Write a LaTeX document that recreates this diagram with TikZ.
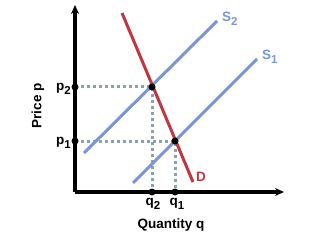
\documentclass[tikz,border=0pt]{standalone}
\usepackage{fontspec}
\setmainfont{Liberation Sans}
\usetikzlibrary{arrows.meta}
\newcommand{\lowsub}[1]{\raisebox{-0.6ex}{\fontsize{11.5}{12}\selectfont #1}}
\definecolor{supblue}{RGB}{122,150,212}
\definecolor{demred}{RGB}{190,55,65}
\definecolor{guide}{RGB}{135,162,172}
\begin{document}
\begin{tikzpicture}[x=1pt,y=-1pt,
  font=\fontsize{13.5}{15}\selectfont\bfseries,
  axis/.style={line width=3.2pt,-{Stealth[length=9pt,width=8pt]}},
  guideline/.style={guide,line width=3pt,dash pattern=on 3pt off 3pt},
  supline/.style={supblue,line width=3pt},
  demline/.style={demred,line width=3pt},
  dot/.style={circle,fill=black,inner sep=0pt,minimum size=7pt},
  lab/.style={inner sep=0pt}]
\useasboundingbox (0,0) rectangle (320,240);
% points
\coordinate (O) at (75,192);
\coordinate (Ytop) at (75,5);
\coordinate (Xend) at (284,192);
\coordinate (E2) at (152,87);
\coordinate (E1) at (175,141);
\coordinate (P2) at (75,87);
\coordinate (P1) at (75,141);
\coordinate (Q2) at (152,192);
\coordinate (Q1) at (175,192);
\coordinate (D0) at (122,13);
\coordinate (D1) at (193,182);
\coordinate (SA0) at (84,153);
\coordinate (SA1) at (217,21);
\coordinate (SB0) at (133,183);
\coordinate (SB1) at (257,59);
% guides
\draw[guideline] (P2) -- (E2) -- (Q2);
\draw[guideline] (P1) -- (E1) -- (Q1);
% curves
\draw[supline] (SA0) -- (SA1);
\draw[supline] (SB0) -- (SB1);
\draw[demline] (D0) -- (D1);
% axes
\draw[axis] (O) -- (Ytop);
\draw[axis] (O) -- (Xend);
% dots
\node[dot] (e2d) at (E2) {};
\node[dot] (e1d) at (E1) {};
\node[dot] (p2d) at (P2) {};
\node[dot] (p1d) at (P1) {};
\node[dot] (q2d) at (Q2) {};
\node[dot] (q1d) at (Q1) {};
% labels
\node[lab,anchor=east] (p2l) at (71,89) {p\lowsub{2}};
\node[lab,anchor=east] (p1l) at (71,143) {p\lowsub{1}};
\node[lab] (q2l) at (153,204) {q\lowsub{2}};
\node[lab] (q1l) at (177,204) {q\lowsub{1}};
\node[lab,text=supblue,anchor=west] (s2l) at (222,19) {S\lowsub{2}};
\node[lab,text=supblue,anchor=west] (s1l) at (262,57) {S\lowsub{1}};
\node[lab,text=demred,anchor=west] (dl) at (196,177) {D};
\node[lab] (xl) at (171,225) {Quantity q};
\node[lab,rotate=90] (yl) at (38,106) {Price p};
\end{tikzpicture}
\end{document}
